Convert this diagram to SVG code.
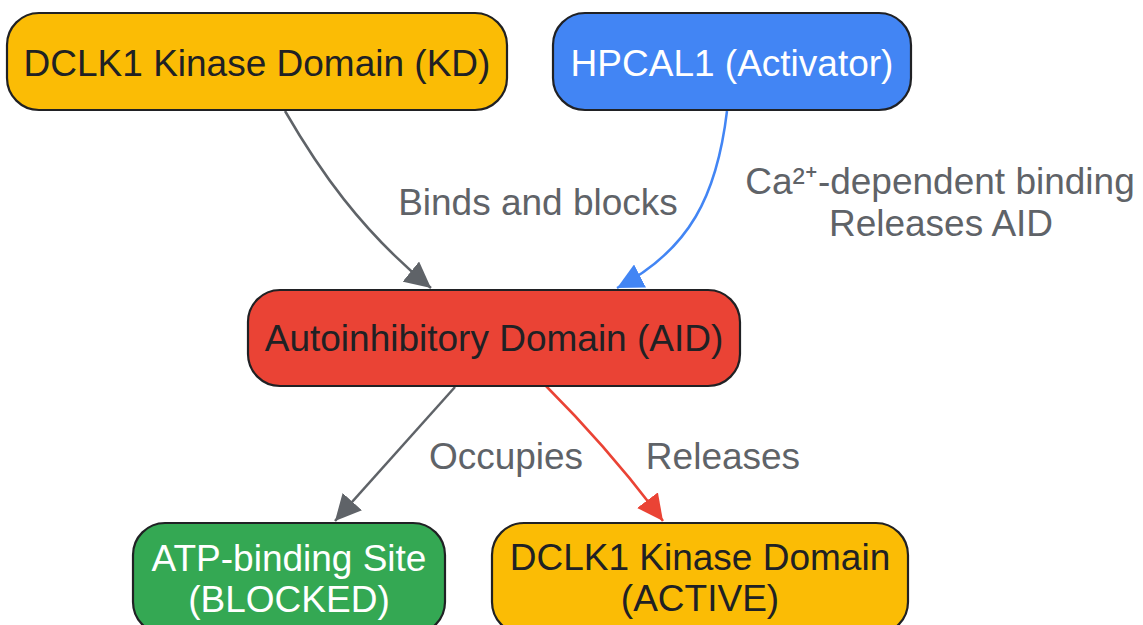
<svg xmlns="http://www.w3.org/2000/svg" width="1143" height="625" viewBox="0 0 1143 625">
<style>
text{font-family:"Liberation Sans",Arial,sans-serif;font-size:37px;text-anchor:middle}
.node rect{stroke:#202124;stroke-width:2.2}
.dark{fill:#202124}
.light{fill:#ffffff}
.lbl{fill:#5f6368}
.edge{fill:none;stroke-width:2.5}
</style>
<defs>
<marker id="ag" viewBox="0 0 10 10" refX="10" refY="5" markerUnits="userSpaceOnUse" markerWidth="26" markerHeight="26" orient="auto"><path d="M0,0 L10,5 L0,10 z" fill="#5f6368"/></marker>
<marker id="ab" viewBox="0 0 10 10" refX="10" refY="5" markerUnits="userSpaceOnUse" markerWidth="26" markerHeight="26" orient="auto"><path d="M0,0 L10,5 L0,10 z" fill="#4285F4"/></marker>
<marker id="ar" viewBox="0 0 10 10" refX="10" refY="5" markerUnits="userSpaceOnUse" markerWidth="26" markerHeight="26" orient="auto"><path d="M0,0 L10,5 L0,10 z" fill="#EA4335"/></marker>
</defs>
<rect width="1143" height="625" fill="#ffffff"/>
<g id="connectors">
<path class="edge" stroke="#5f6368" d="M285,111 C318,168 360,230 431,288" marker-end="url(#ag)"/>
<path class="edge" stroke="#4285F4" d="M727,111 C717,195 690,250 617,288" marker-end="url(#ab)"/>
<path class="edge" stroke="#5f6368" d="M455,387 L335,521" marker-end="url(#ag)"/>
<path class="edge" stroke="#EA4335" d="M546,386 C585,425 625,470 663,521" marker-end="url(#ar)"/>
</g>
<g id="edge-labels">
<text class="lbl" x="538" y="215">Binds and blocks</text>
<text class="lbl" x="940" y="194">Ca²⁺-dependent binding</text>
<text class="lbl" x="941" y="236">Releases AID</text>
<text class="lbl" x="506" y="469">Occupies</text>
<text class="lbl" x="723" y="469">Releases</text>
</g>
<g id="node-kd" class="node">
<rect x="7" y="13" width="500" height="97" rx="32" fill="#FBBC05"/>
<text class="dark" x="257" y="76">DCLK1 Kinase Domain (KD)</text>
</g>
<g id="node-hpcal1" class="node">
<rect x="553" y="13" width="358" height="97" rx="32" fill="#4285F4"/>
<text class="light" x="732" y="76">HPCAL1 (Activator)</text>
</g>
<g id="node-aid" class="node">
<rect x="248" y="290" width="492" height="96" rx="32" fill="#EA4335"/>
<text class="dark" x="494" y="351">Autoinhibitory Domain (AID)</text>
</g>
<g id="node-atp" class="node">
<rect x="133" y="523" width="312" height="111" rx="32" fill="#34A853"/>
<text class="light" x="289" y="571">ATP-binding Site</text>
<text class="light" x="289" y="612">(BLOCKED)</text>
</g>
<g id="node-active" class="node">
<rect x="492" y="523" width="416" height="111" rx="32" fill="#FBBC05"/>
<text class="dark" x="700" y="570">DCLK1 Kinase Domain</text>
<text class="dark" x="700" y="611">(ACTIVE)</text>
</g>
</svg>
